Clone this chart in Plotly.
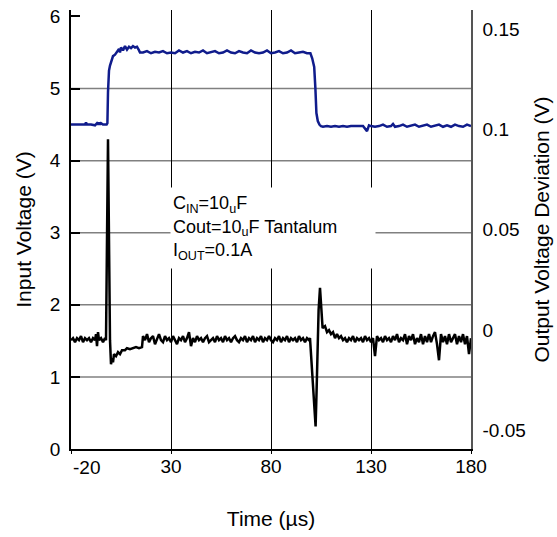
import plotly.graph_objects as go

# input voltage step (blue, left axis)
t_in = [-20, -18, -16, -14, -13, -12.5, -12, -10, -8, -7,
        -6.5, -6, -5.5, -5, -4, -2.2, -1.8, -1.5, -1.0, -0.5,
        0.2, 1, 2, 2.5, 3.5, 4, 4.5, 5, 6, 7,
        8, 9, 10, 11, 12, 13, 14, 14.5, 16, 18,
        20, 22, 24, 26, 28, 30, 32, 34, 36, 38,
        40, 42, 44, 46, 48, 50, 52, 54, 56, 58,
        60, 62, 64, 66, 68, 70, 72, 74, 76, 78,
        80, 82, 84, 86, 88, 90, 92, 94, 96, 98,
        99.7, 100.6, 101.6, 102.2, 102.7, 103.4, 104.2, 105, 106, 108,
        110, 112, 114, 116, 118, 120, 122, 124, 126, 128,
        129, 130, 132, 134, 136, 138, 140, 141, 142, 144,
        146, 148, 150, 152, 154, 156, 158, 160, 162, 164,
        166, 168, 170, 172, 174, 176, 178, 180]
v_in = [4.50, 4.50, 4.49, 4.50, 4.50, 4.53, 4.50, 4.50, 4.49, 4.52,
        4.50, 4.53, 4.50, 4.52, 4.50, 4.50, 4.52, 4.95, 5.25, 5.32,
        5.38, 5.45, 5.47, 5.49, 5.52, 5.55, 5.50, 5.57, 5.53, 5.59,
        5.54, 5.58, 5.56, 5.59, 5.57, 5.58, 5.53, 5.50, 5.50, 5.52,
        5.49, 5.51, 5.50, 5.52, 5.49, 5.50, 5.49, 5.53, 5.50, 5.52,
        5.49, 5.51, 5.50, 5.53, 5.49, 5.50, 5.52, 5.49, 5.50, 5.53,
        5.50, 5.49, 5.52, 5.50, 5.49, 5.53, 5.50, 5.49, 5.50, 5.53,
        5.49, 5.50, 5.52, 5.49, 5.50, 5.53, 5.49, 5.50, 5.51, 5.49,
        5.49, 5.42, 5.30, 5.00, 4.66, 4.55, 4.50, 4.48, 4.47, 4.48,
        4.47, 4.48, 4.47, 4.48, 4.47, 4.48, 4.48, 4.47, 4.48, 4.41,
        4.49, 4.48, 4.47, 4.48, 4.50, 4.47, 4.48, 4.51, 4.47, 4.48,
        4.50, 4.47, 4.48, 4.50, 4.47, 4.48, 4.50, 4.47, 4.48, 4.50,
        4.47, 4.49, 4.47, 4.50, 4.48, 4.47, 4.50, 4.48]

# output voltage deviation (black, right axis)
t_out = [-20, -19, -18, -17, -16, -15, -14, -13, -12, -11,
         -10, -9, -8, -7.5, -7, -6.5, -6, -5, -4, -3,
         -2.5, -2.0, -1.5, -1.0, -0.5, 0, 0.5, 1, 1.5, 2.5,
         3.5, 4.5, 5.5, 7, 8, 9.5, 11, 12.5, 14, 15.5,
         16, 17, 18, 19, 20, 21, 22, 23, 24, 25,
         26, 27, 28, 29, 30, 31, 32, 33, 34, 35,
         36, 37, 38, 39, 40, 41, 42, 43, 44, 45,
         46, 47, 48, 49, 50, 51, 52, 53, 54, 55,
         56, 57, 58, 59, 60, 61, 62, 63, 64, 65,
         66, 67, 68, 69, 70, 71, 72, 73, 74, 75,
         76, 77, 78, 79, 80, 81, 82, 83, 84, 85,
         86, 87, 88, 89, 90, 91, 92, 93, 94, 95,
         96, 97, 98, 99, 99.5,
         100.0, 100.7, 101.3, 101.8, 102.3, 102.8, 103.3, 103.8, 104.5, 105.2,
         105.8, 107, 108, 109, 110, 111, 112, 113, 114,
         115, 116, 117, 118, 119, 120, 121, 122, 123, 124,
         125, 126, 127, 128, 129, 130, 131, 132, 133, 134,
         135, 136, 137, 138, 139, 140, 141, 142, 143, 144,
         145, 146, 147, 148, 149, 150, 151, 152, 153, 154,
         155, 156, 157, 158, 159, 160, 161, 162, 163, 164,
         165, 166, 167, 168, 169, 170, 171, 172, 173, 174,
         175, 176, 177, 178, 179, 180]
v_out = [-0.005, -0.004, -0.006, -0.004, -0.005, -0.003, -0.006, -0.004, -0.005, -0.004,
         -0.006, -0.004, -0.005, -0.002, -0.008, -0.001, -0.005, -0.004, -0.006, -0.004,
         -0.005, 0.040, 0.095, 0.045, -0.005, -0.017, -0.014, -0.016, -0.012, -0.013,
         -0.011, -0.012, -0.010, -0.010, -0.009, -0.0095, -0.009, -0.0085, -0.009, -0.0085,
         -0.003, -0.005, -0.002, -0.006, -0.004, -0.003, -0.007, -0.004, -0.002, -0.005,
         -0.006, -0.003, -0.005, -0.004, -0.006, -0.003, -0.005, -0.007, -0.004, -0.005,
         -0.003, -0.006, -0.004, -0.001, -0.008, -0.004, -0.006, -0.003, -0.005, -0.004,
         -0.006, -0.004, -0.003, -0.006, -0.005, -0.004, -0.006, -0.003, -0.005, -0.004,
         -0.006, -0.003, -0.005, -0.004, -0.006, -0.004, -0.003, -0.005, -0.006, -0.004,
         -0.005, -0.003, -0.006, -0.004, -0.005, -0.003, -0.006, -0.004, -0.005, -0.003,
         -0.006, -0.004, -0.005, -0.003, -0.005, -0.006, -0.004, -0.005, -0.003, -0.006,
         -0.004, -0.005, -0.003, -0.006, -0.004, -0.005, -0.004, -0.006, -0.003, -0.005,
         -0.004, -0.006, -0.004, -0.005, -0.004,
         -0.012, -0.027, -0.031, -0.040, -0.048, -0.030, -0.005, 0.010, 0.021, 0.009,
         0.001, 0.002, -0.001, 0.000, -0.002, -0.001, -0.004, -0.002, -0.004,
         -0.003, -0.005, -0.004, -0.006, -0.004, -0.005, -0.003, -0.006, -0.004, -0.005,
         -0.004, -0.006, -0.003, -0.005, -0.004, -0.006, -0.004, -0.013, -0.003, -0.005,
         -0.004, -0.006, -0.003, -0.005, -0.004, -0.006, -0.003, -0.005, -0.002, -0.006,
         -0.004, -0.005, -0.002, -0.007, -0.003, -0.005, -0.002, -0.007, -0.004, -0.006,
         -0.002, -0.007, -0.003, -0.006, -0.002, -0.006, -0.003, -0.001, -0.007, -0.015,
         -0.002, -0.006, -0.003, -0.007, -0.002, -0.006, -0.004, -0.002, -0.007, -0.003,
         -0.006, -0.002, -0.007, -0.003, -0.012, -0.004]

x_ticks = [-20, 30, 80, 130, 180]
# the first label is left-aligned at the plot edge in the original; it is drawn separately
x_labels = ["", "30", "80", "130", "180"]
left_ticks = [0, 1, 2, 3, 4, 5, 6]
left_grid = [1, 2, 3, 4, 5]
right_ticks = [-0.05, 0, 0.05, 0.1, 0.15]
right_labels = ["-0.05", "0", "0.05", "0.1", "0.15"]

note = ("C<sub>IN</sub>=10<sub>u</sub>F<br>"
        "Cout=10<sub>u</sub>F Tantalum<br>"
        "I<sub>OUT</sub>=0.1A")

FONT = "Liberation Sans, Arial, sans-serif"

fig = go.Figure()
fig.add_trace(go.Scatter(x=t_in, y=v_in, mode="lines", yaxis="y",
                         line=dict(color="#101c8c", width=2.5), showlegend=False))
fig.add_trace(go.Scatter(x=t_out, y=v_out, mode="lines", yaxis="y2",
                         line=dict(color="black", width=2.5), showlegend=False))

# horizontal grid (gray, only at the inner left-axis ticks)
for g in left_grid:
    fig.add_shape(type="line", xref="paper", x0=0, x1=1, yref="y", y0=g, y1=g,
                  line=dict(color="#808080", width=1.5), layer="below")

# note in a white box that hides the grid behind it
fig.add_annotation(text=note, xref="x", yref="y", x=29.5, y=3.63,
                   xanchor="left", yanchor="top", showarrow=False, align="left",
                   valign="middle", width=200, height=76, bgcolor="white",
                   borderpad=2, font=dict(size=18, color="black", family=FONT))

# first x tick label
fig.add_annotation(text="-20", xref="x", x=x_ticks[0], xanchor="left",
                   yref="paper", y=0, yanchor="top", yshift=-6, showarrow=False,
                   font=dict(size=19, color="black", family=FONT))

fig.update_layout(
    width=557, height=537,
    margin=dict(l=71, r=86, t=6, b=88),
    paper_bgcolor="white", plot_bgcolor="white",
    font=dict(family=FONT, color="black", size=19),
    xaxis=dict(range=[-20, 180], tickvals=x_ticks, ticktext=x_labels, showgrid=True,
               gridcolor="black", gridwidth=1, zeroline=False,
               showline=True, linecolor="black", linewidth=1.5,
               ticks="outside", ticklen=3, tickcolor="black",
               ticklabelstandoff=-4,
               title=dict(text="Time (\u00b5s)", font=dict(size=21), standoff=36)),
    yaxis=dict(range=[0, 6.09], tickvals=left_ticks, showgrid=False, zeroline=False,
               showline=True, linecolor="black", linewidth=1.5,
               ticks="inside", ticklen=9, tickwidth=1.5, tickcolor="black",
               ticklabelstandoff=5,
               title=dict(text="Input Voltage (V)", font=dict(size=21), standoff=13)),
    yaxis2=dict(range=[-0.0592, 0.1594], overlaying="y", side="right",
                tickvals=right_ticks, ticktext=right_labels, showgrid=False,
                zeroline=False, showline=True, linecolor="#555555", linewidth=1.5,
                ticks="", ticklabelstandoff=6,
                title=dict(text="Output Voltage Deviation (V)", font=dict(size=21),
                           standoff=9)),
)

# page has a default body margin; remove it so the figure sits at 0,0
fig.write_html("out.html", config={"displayModeBar": False},
               post_script="document.body.style.margin='0';")
